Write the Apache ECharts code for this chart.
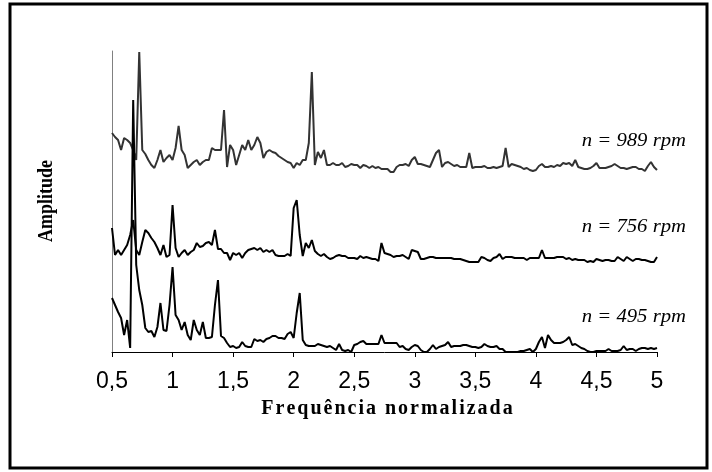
<!DOCTYPE html>
<html><head><meta charset="utf-8">
<script src="https://cdn.jsdelivr.net/npm/echarts@6/dist/echarts.min.js"></script>
<style>html,body{margin:0;padding:0;background:#fff}#c{width:712px;height:472px}</style>
</head><body><div id="c"></div>
<script>
const freq = [
0.500,0.525,0.550,0.575,0.600,0.625,0.650,0.675,0.700,0.725,
0.750,0.775,0.800,0.825,0.850,0.875,0.900,0.925,0.950,0.975,
1.000,1.025,1.050,1.075,1.100,1.125,1.150,1.175,1.200,1.225,
1.250,1.275,1.300,1.325,1.350,1.375,1.400,1.425,1.450,1.475,
1.500,1.525,1.550,1.575,1.600,1.625,1.650,1.675,1.700,1.725,
1.750,1.775,1.800,1.825,1.850,1.875,1.900,1.925,1.950,1.975,
2.000,2.025,2.050,2.075,2.100,2.125,2.150,2.175,2.200,2.225,
2.250,2.275,2.300,2.325,2.350,2.375,2.400,2.425,2.450,2.475,
2.500,2.525,2.550,2.575,2.600,2.625,2.650,2.675,2.700,2.725,
2.750,2.775,2.800,2.825,2.850,2.875,2.900,2.925,2.950,2.975,
3.000,3.025,3.050,3.075,3.100,3.125,3.150,3.175,3.200,3.225,
3.250,3.275,3.300,3.325,3.350,3.375,3.400,3.425,3.450,3.475,
3.500,3.525,3.550,3.575,3.600,3.625,3.650,3.675,3.700,3.725,
3.750,3.775,3.800,3.825,3.850,3.875,3.900,3.925,3.950,3.975,
4.000,4.025,4.050,4.075,4.100,4.125,4.150,4.175,4.200,4.225,
4.250,4.275,4.300,4.325,4.350,4.375,4.400,4.425,4.450,4.475,
4.500,4.525,4.550,4.575,4.600,4.625,4.650,4.675,4.700,4.725,
4.750,4.775,4.800,4.825,4.850,4.875,4.900,4.925,4.950,4.975,
5.000];

const amp989 = [
219,215,212,202,214,212,209,202,192,300,
202,198,192,187,184,192,202,190,194,197,
192,204,226,202,197,184,187,190,192,187,
190,192,192,204,202,202,202,242,185,207,
202,187,197,207,202,212,202,207,215,209,
194,200,202,200,199,196,194,192,190,189,
184,189,187,192,192,209,280,187,200,194,
202,187,187,189,187,187,189,185,186,188,
187,187,184,187,186,184,186,184,185,183,
183,183,180,180,185,187,187,188,186,192,
195,188,188,187,186,185,192,199,202,185,
189,190,188,186,187,185,185,185,199,184,
185,185,185,186,184,184,185,184,185,186,
204,185,188,187,186,185,183,184,182,181,
182,186,188,185,185,186,185,187,186,189,
188,189,186,192,185,184,183,183,184,186,
189,184,184,184,185,186,188,186,184,184,
183,184,185,185,183,183,181,186,190,185,
182];

const amp756 = [
124,97,102,97,102,107,117,132,102,97,
110,122,119,114,110,104,97,107,95,97,
147,104,95,99,102,97,100,102,109,105,
106,109,110,107,122,103,103,99,99,92,
99,97,99,94,99,102,103,104,102,104,
100,102,100,102,97,96,96,96,98,96,
144,152,117,96,109,104,112,101,98,96,
98,95,93,94,96,97,96,96,94,94,
94,93,96,94,95,94,93,93,91,109,
99,98,97,95,96,96,97,95,93,102,
101,100,93,93,94,95,95,94,94,94,
94,94,94,93,93,93,92,91,90,90,
90,90,95,94,92,91,94,95,98,93,
95,95,95,94,94,94,94,92,94,94,
94,94,102,94,94,94,94,95,95,95,
93,94,92,93,92,92,92,90,91,90,
93,92,91,92,92,91,91,95,93,91,
95,93,91,93,93,92,92,91,90,90,
95];

const amp495 = [
54,47,40,34,17,32,4,252,87,62,
47,24,20,21,15,25,49,22,21,47,
85,37,32,22,30,17,12,32,22,17,
30,14,14,15,47,72,16,14,9,5,
6,4,5,10,6,5,5,13,11,12,
10,13,14,16,16,14,14,13,18,20,
14,39,59,12,7,6,6,6,8,7,
6,5,6,4,2,8,2,1,2,0,
7,8,10,11,8,8,8,8,8,17,
9,9,9,9,9,5,6,3,2,5,
7,6,2,0,0,3,7,3,5,6,
7,10,5,6,6,6,7,7,6,5,
5,4,5,8,6,5,5,6,3,3,
0,0,0,0,0,1,1,2,3,0,
3,10,15,4,17,12,9,9,9,10,
12,15,7,8,6,4,3,1,0,0,
1,1,1,1,3,1,1,1,2,6,
2,3,3,1,3,4,4,3,4,3,
4];

const seriesNames = ['n = 989 rpm', 'n = 756 rpm', 'n = 495 rpm'];
const xTickLabels = ['0,5','1','1,5','2','2,5','3','3,5','4','4,5','5'];
const xTitle = 'Frequência normalizada';
const yTitle = 'Amplitude';

const pairs = a => freq.map((f, i) => [f, a[i]]);
const SERIF = 'Liberation Serif';
const chart = echarts.init(document.getElementById('c'), null, {renderer: 'canvas'});

const lineSeries = (name, data, color) => ({
  name: name, type: 'line', data: pairs(data), showSymbol: false, symbol: 'none',
  smooth: false, lineStyle: {color: color, width: 2}, z: 3, silent: true
});

// letter-spaced title built character by character
const measureCtx = document.createElement('canvas').getContext('2d');
function spacedText(str, cx, cy, size, weight, spacing) {
  measureCtx.font = weight + ' ' + size + 'px "' + SERIF + '"';
  const chars = Array.from(str);
  const ws = chars.map(ch => measureCtx.measureText(ch).width);
  const total = ws.reduce((s, w) => s + w, 0) + spacing * (chars.length - 1);
  let x = cx - total / 2;
  const children = chars.map((ch, i) => {
    const el = {type: 'text', x: x, y: cy,
      style: {text: ch, fontFamily: SERIF, fontWeight: weight, fontSize: size,
              textAlign: 'left', textVerticalAlign: 'middle', fill: '#000'}};
    x += ws[i] + spacing;
    return el;
  });
  return {type: 'group', children: children};
}

const rpmLabel = (txt, y) => ({
  type: 'text', x: 686, y: y, scaleX: 1.15,
  style: {text: txt, fontFamily: SERIF, fontStyle: 'italic', fontSize: 18,
          textAlign: 'right', textVerticalAlign: 'middle', fill: '#000'}
});

chart.setOption({
  animation: false,
  backgroundColor: '#fff',
  grid: {left: 112, right: 55, top: 51, bottom: 119, containLabel: false},
  xAxis: {
    type: 'value', min: 0.5, max: 5, interval: 0.5,
    axisLine: {show: true, lineStyle: {color: '#000', width: 1}},
    axisTick: {show: true, length: 5, inside: false, lineStyle: {color: '#000'}},
    axisLabel: {
      margin: 17, color: '#000', fontSize: 23,
      fontFamily: '"Liberation Sans Narrow","Liberation Sans",Arial,sans-serif',
      formatter: v => xTickLabels[Math.round((v - 0.5) / 0.5)]
    },
    splitLine: {show: false}
  },
  yAxis: {
    type: 'value', min: -1, max: 301,
    axisLine: {show: true, lineStyle: {color: '#808080', width: 1}},
    axisTick: {show: false}, axisLabel: {show: false}, splitLine: {show: false}
  },
  series: [
    lineSeries(seriesNames[0], amp989, '#333333'),
    lineSeries(seriesNames[1], amp756, '#000000'),
    lineSeries(seriesNames[2], amp495, '#000000')
  ],
  graphic: [
    {type: 'rect', shape: {x: 10, y: 4, width: 697, height: 464},
     style: {fill: null, stroke: '#000', lineWidth: 3}, z: 10},
    {type: 'text', x: 47, y: 201, rotation: Math.PI / 2, scaleY: 1.15,
     style: {text: yTitle, fontFamily: SERIF, fontWeight: 'bold', fontSize: 18,
             textAlign: 'center', textVerticalAlign: 'middle', fill: '#000'}},
    spacedText(xTitle, 387, 409, 20, 'bold', 2),
    rpmLabel(seriesNames[0], 141),
    rpmLabel(seriesNames[1], 227),
    rpmLabel(seriesNames[2], 317)
  ]
});
</script>
</body></html>
